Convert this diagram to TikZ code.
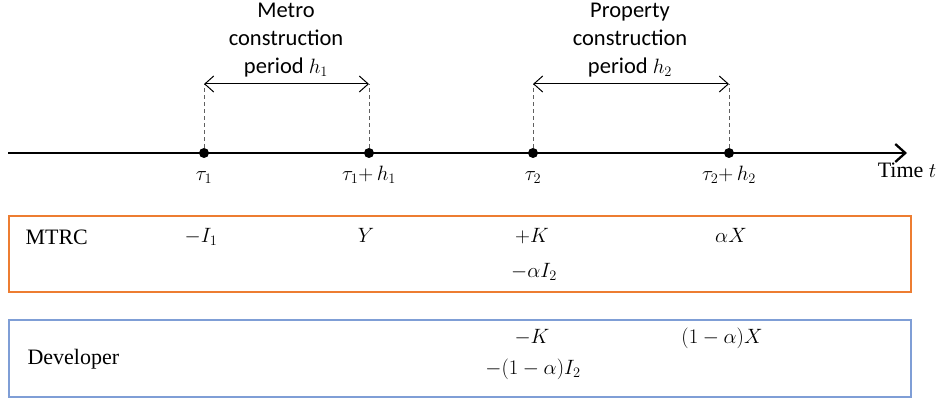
\documentclass[tikz,border=0pt]{standalone}
\usepackage{fontspec}
\setmainfont{Liberation Serif}
\newfontfamily\calfont{Carlito}
\usetikzlibrary{arrows.meta}
\definecolor{mtrcorange}{HTML}{ED7D31}
\definecolor{devblue}{HTML}{7F9ED6}
\tikzset{
  tdot/.style={circle,fill,inner sep=0pt,minimum size=10pt},
  guide/.style={gray!75!black,dash pattern=on 4pt off 3pt,line width=1pt},
  periodarrow/.style={{Straight Barb[length=9pt,width=16pt]}-{Straight Barb[length=9pt,width=16pt]},line width=1pt},
  periodlbl/.style={font=\calfont\fontsize{22.5}{28}\selectfont,align=center},
  ticklbl/.style={anchor=base,font=\fontsize{22}{26}\selectfont},
  cash/.style={anchor=base,font=\fontsize{22}{26}\selectfont},
  rowbox/.style={line width=1.3pt},
}
\begin{document}
\begin{tikzpicture}[x=1pt,y=-1pt]
  \useasboundingbox (0,0) rectangle (945,401);
  % time axis
  \coordinate (axstart) at (8,153);
  \coordinate (axend) at (907,153);
  \draw[line width=2.3pt,-{Straight Barb[length=10pt,width=18pt]}] (axstart) -- (axend);
  \node[tdot] (t1) at (204,153) {};
  \node[tdot] (t1h) at (369,153) {};
  \node[tdot] (t2) at (533,153) {};
  \node[tdot] (t2h) at (729,153) {};
  \node[ticklbl] at (204,180) {$\tau_1$};
  \node[ticklbl] at (369,180) {$\tau_1{+}\,h_1$};
  \node[ticklbl] at (533,180) {$\tau_2$};
  \node[ticklbl] at (729,180) {$\tau_2{+}\,h_2$};
  \node[ticklbl] (time) at (907,178) {Time $t$};
  % construction periods
  \foreach \d/\u in {t1/m1,t1h/m2,t2/p1,t2h/p2}{
    \coordinate (\u) at (\d |- 0,84);
    \draw[guide] (\d) -- (\u);}
  \draw[periodarrow] (m1) -- (m2);
  \draw[periodarrow] (p1) -- (p2);
  \node[periodlbl] (metro) at (286,40) {Metro\\construction\\period $h_1$};
  \node[periodlbl] (prop) at (630,40) {Property\\construction\\period $h_2$};
  % MTRC cash flows
  \draw[rowbox,mtrcorange] (9,216) rectangle (911,292);
  \node[cash,anchor=base west] (mtrc) at (22,244) {MTRC};
  \node[cash] at (201,242) {$-I_1$};
  \node[cash] at (366,242) {$Y$};
  \node[cash] at (532,242) {$+K$};
  \node[cash] at (534,277) {$-\alpha I_2$};
  \node[cash] at (731,242) {$\alpha X$};
  % developer cash flows
  \draw[rowbox,devblue] (9,320) rectangle (911,397);
  \node[cash,anchor=base west] (dev) at (24,364) {Developer};
  \node[cash] at (532,343) {$-K$};
  \node[cash] at (722,343) {$(1-\alpha)X$};
  \node[cash] at (533,374) {$-(1-\alpha)I_2$};
\end{tikzpicture}
\end{document}
